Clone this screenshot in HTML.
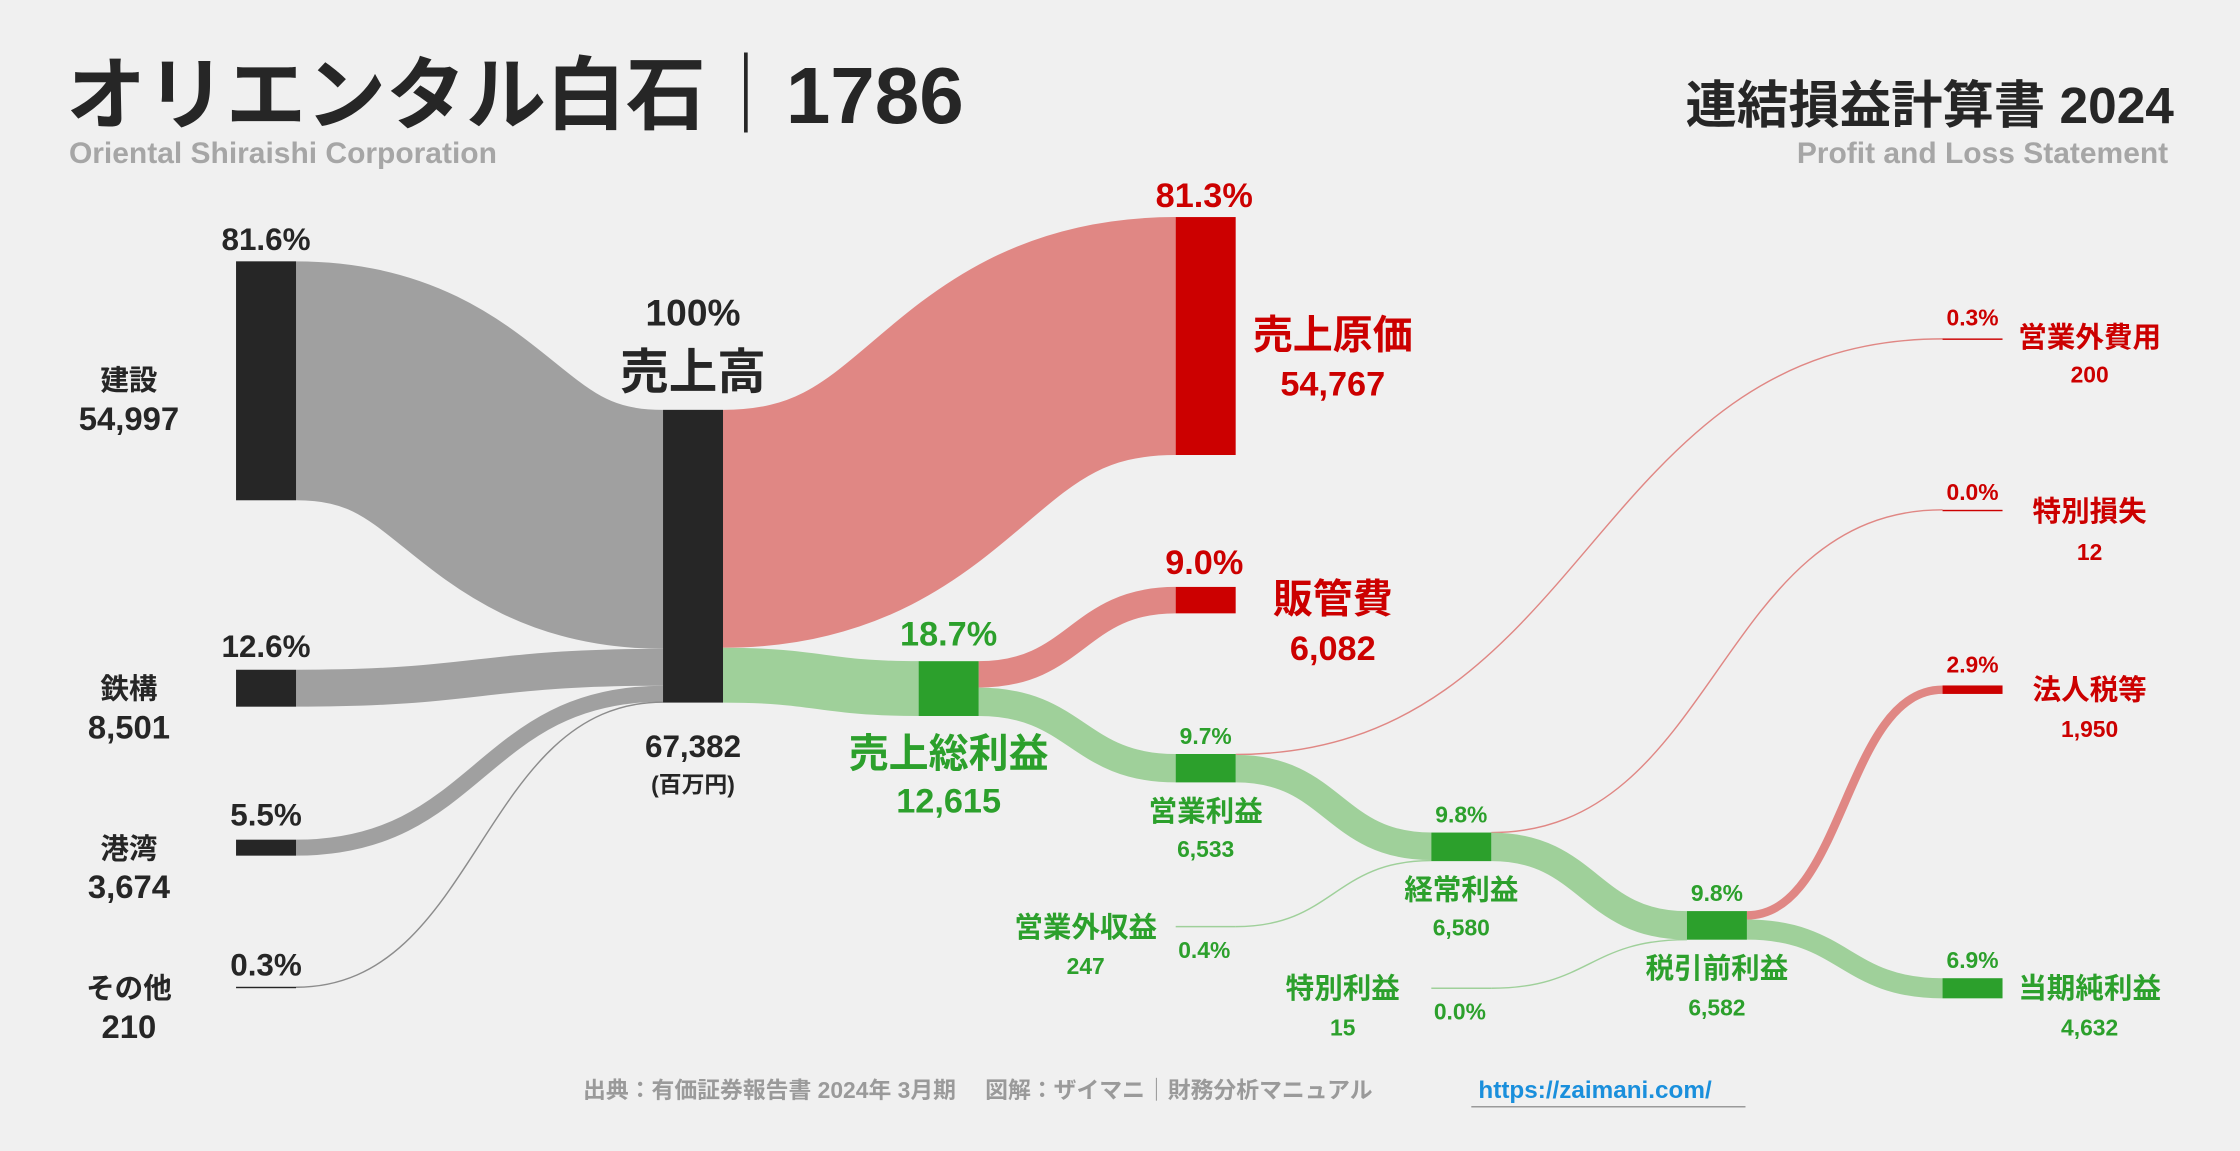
<!DOCTYPE html>
<html><head><meta charset="utf-8">
<style>
html,body{margin:0;padding:0;background:#f0f0f0;}
svg{display:block;}
text{font-family:"Liberation Sans","Noto Sans CJK JP",sans-serif;font-weight:bold;}
</style></head>
<body>
<svg id="chart" width="2240" height="1151" viewBox="0 0 1568 806" xmlns="http://www.w3.org/2000/svg">
<rect width="1568" height="806" fill="#f0f0f0"/>
<text x="46" y="86" font-size="56" fill="#262626">オリエンタル白石｜1786</text>
<text x="48" y="114" font-size="21" fill="#a6a6a6">Oriental Shiraishi Corporation</text>
<text x="1522" y="86" font-size="36" fill="#262626" text-anchor="end">連結損益計算書 2024</text>
<text x="1518" y="114" font-size="21" fill="#a6a6a6" text-anchor="end">Profit and Loss Statement</text>
<g id="links"></g>
<g id="nodes"></g>
<g id="labels"></g>
<text x="408" y="769" font-size="16" fill="#9a9a9a">出典：有価証券報告書 2024年 3月期　 図解：ザイマニ｜財務分析マニュアル</text>
<text x="1035" y="769" font-size="17" fill="#1a8fdc">https://zaimani.com/</text>
<line x1="1030" y1="775" x2="1222" y2="775" stroke="#9a9a9a" stroke-width="1"/>
</svg>
<script>
// Data (millions of yen)
const nodeNames = ["建設","鉄構","港湾","その他","売上高","売上原価","売上総利益","販管費","営業利益","営業外費用","営業外収益","経常利益","特別損失","特別利益","税引前利益","法人税等","当期純利益"];
const nodeValues = [54997,8501,3674,210,67382,54767,12615,6082,6533,200,247,6580,12,15,6582,1950,4632];
const linkSources = ["建設","鉄構","港湾","その他","売上高","売上高","売上総利益","売上総利益","営業利益","営業利益","営業外収益","経常利益","経常利益","特別利益","税引前利益","税引前利益"];
const linkTargets = ["売上高","売上高","売上高","売上高","売上原価","売上総利益","販管費","営業利益","営業外費用","経常利益","経常利益","特別損失","税引前利益","税引前利益","法人税等","当期純利益"];
const linkValues = [54997,8501,3674,210,54767,12615,6082,6533,200,6333,247,12,6568,15,1950,4632];

// Layout
const scale = 205/67382;
const nodeX = {"建設":165,"鉄構":165,"港湾":165,"その他":165,"売上高":464,"売上原価":823,"売上総利益":643,"販管費":823,"営業利益":823,"営業外費用":1360,"営業外収益":823,"経常利益":1002,"特別損失":1360,"特別利益":1002,"税引前利益":1181,"法人税等":1360,"当期純利益":1360};
const nodeTop = {"建設":183,"鉄構":469,"港湾":588,"その他":691,"売上高":287,"売上原価":152,"売上総利益":463,"販管費":411,"営業利益":528,"営業外費用":237,"営業外収益":648.5,"経常利益":583,"特別損失":357,"特別利益":692,"税引前利益":638,"法人税等":480,"当期純利益":685};
const W = 42;
const dark = ["建設","鉄構","港湾","その他","売上高"];
const red = ["売上原価","販管費","営業外費用","特別損失","法人税等"];
const hidden = ["営業外収益","特別利益"];
const NS = "http://www.w3.org/2000/svg";
function nodeColor(n){ return dark.includes(n)?"#262626":red.includes(n)?"#cc0000":"#2ca02c"; }
function linkColor(s,t,h){ if(t==="売上高") return h<2?"#8c8c8c":"#a0a0a0"; if(red.includes(t)) return "#e08784"; return "#9fd09a"; }

const outOff = {}, inOff = {};
const linkG = document.getElementById('links');
linkSources.forEach((s,i)=>{
  const t = linkTargets[i];
  const h = linkValues[i]*scale;
  const so = outOff[s]||0, to = inOff[t]||0;
  outOff[s]=so+h; inOff[t]=to+h;
  const x0 = nodeX[s]+W, x1 = nodeX[t];
  const y0 = nodeTop[s]+so+h/2, y1 = nodeTop[t]+to+h/2;
  const mx = (x0+x1)/2;
  const p = document.createElementNS(NS,'path');
  p.setAttribute('d',`M${x0},${y0} C${mx},${y0} ${mx},${y1} ${x1},${y1}`);
  p.setAttribute('fill','none');
  p.setAttribute('stroke', linkColor(s,t,h));
  p.setAttribute('stroke-width', Math.max(h,1));
  
  
  linkG.appendChild(p);
});
const nodeG = document.getElementById('nodes');
nodeNames.forEach((n,i)=>{
  const h = nodeValues[i]*scale;
  if(hidden.includes(n)){
    const l = document.createElementNS(NS,'line');
    l.setAttribute('x1',nodeX[n]); l.setAttribute('x2',nodeX[n]+W);
    l.setAttribute('y1',nodeTop[n]+h/2); l.setAttribute('y2',nodeTop[n]+h/2);
    l.setAttribute('stroke','#9fd09a'); l.setAttribute('stroke-width',1);
    
    
    nodeG.appendChild(l);
    return;
  }
  const r = document.createElementNS(NS,'rect');
  r.setAttribute('x',nodeX[n]); r.setAttribute('y',nodeTop[n]);
  r.setAttribute('width',W); r.setAttribute('height',Math.max(h,1));
  r.setAttribute('fill',nodeColor(n));
  
  
  nodeG.appendChild(r);
});

const labelTexts = [
 ["81.6%",186,175,22,"#262626","middle"],["建設",90,273,20,"#262626","middle"],["54,997",90,301,23,"#262626","middle"],
 ["12.6%",186,460,22,"#262626","middle"],["鉄構",90,489,20,"#262626","middle"],["8,501",90,517,23,"#262626","middle"],
 ["5.5%",186,578,22,"#262626","middle"],["港湾",90,601,20,"#262626","middle"],["3,674",90,629,23,"#262626","middle"],
 ["0.3%",186,683,22,"#262626","middle"],["その他",90,699,20,"#262626","middle"],["210",90,727,23,"#262626","middle"],
 ["100%",485,228,26,"#262626","middle"],["売上高",485,272,34,"#262626","middle"],["67,382",485,530,22,"#262626","middle"],["(百万円)",485,555,16,"#262626","middle"],
 ["81.3%",843,145,24,"#cc0000","middle"],["売上原価",933,244,28,"#cc0000","middle"],["54,767",933,277,24,"#cc0000","middle"],
 ["9.0%",843,402,24,"#cc0000","middle"],["販管費",933,429,28,"#cc0000","middle"],["6,082",933,462,24,"#cc0000","middle"],
 ["18.7%",664,452,24,"#2ca02c","middle"],["売上総利益",664,537,28,"#2ca02c","middle"],["12,615",664,569,24,"#2ca02c","middle"],
 ["9.7%",844,521,16,"#2ca02c","middle"],["営業利益",844,575,20,"#2ca02c","middle"],["6,533",844,600,16,"#2ca02c","middle"],
 ["9.8%",1023,576,16,"#2ca02c","middle"],["経常利益",1023,630,20,"#2ca02c","middle"],["6,580",1023,655,16,"#2ca02c","middle"],
 ["9.8%",1202,631,16,"#2ca02c","middle"],["税引前利益",1202,685,20,"#2ca02c","middle"],["6,582",1202,711,16,"#2ca02c","middle"],
 ["6.9%",1381,678,16,"#2ca02c","middle"],["当期純利益",1463,699,20,"#2ca02c","middle"],["4,632",1463,725,16,"#2ca02c","middle"],
 ["2.9%",1381,471,16,"#cc0000","middle"],["法人税等",1463,490,20,"#cc0000","middle"],["1,950",1463,516,16,"#cc0000","middle"],
 ["0.0%",1381,350,16,"#cc0000","middle"],["特別損失",1463,365,20,"#cc0000","middle"],["12",1463,392,16,"#cc0000","middle"],
 ["0.3%",1381,228,16,"#cc0000","middle"],["営業外費用",1463,243,20,"#cc0000","middle"],["200",1463,268,16,"#cc0000","middle"],
 ["営業外収益",760,656,20,"#2ca02c","middle"],["247",760,682,16,"#2ca02c","middle"],["0.4%",843,671,16,"#2ca02c","middle"],
 ["特別利益",940,699,20,"#2ca02c","middle"],["15",940,725,16,"#2ca02c","middle"],["0.0%",1022,714,16,"#2ca02c","middle"]
];
const labG = document.getElementById('labels');
labelTexts.forEach(l=>{
  const t = document.createElementNS(NS,'text');
  t.setAttribute('x',l[1]); t.setAttribute('y',l[2]);
  t.setAttribute('font-size',l[3]); t.setAttribute('fill',l[4]);
  t.setAttribute('text-anchor',l[5]);
  t.textContent = l[0];
  
  
  labG.appendChild(t);
});
</script>
</body></html>
